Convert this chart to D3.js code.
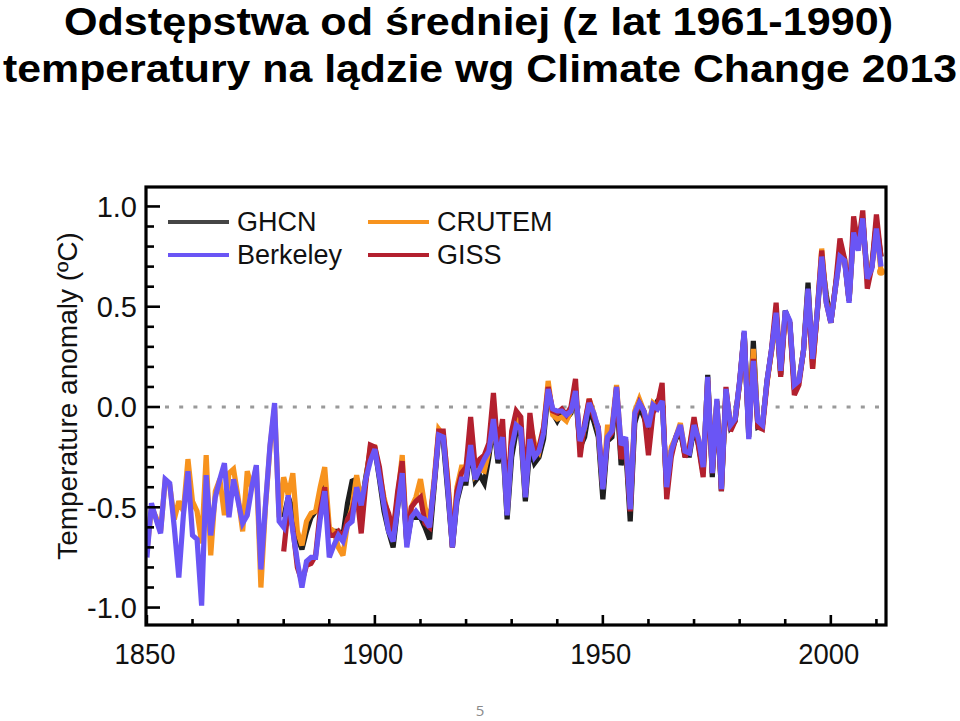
<!DOCTYPE html>
<html><head><meta charset="utf-8">
<script src="https://cdn.jsdelivr.net/npm/d3@7/dist/d3.min.js"></script>
<style>body{margin:0;background:#fff;}svg{display:block;}</style>
</head><body>
<svg id="chart" width="960" height="721"></svg>
<script>
// ---------------- data ----------------
const titleLines = ["Odstępstwa od średniej (z lat 1961-1990)", "temperatury na lądzie wg Climate Change 2013"];
const yAxisTitle = "Temperature anomaly (ºC)";
const pageNumber = "5";
const yMajorTicks = [-1.0, -0.5, 0.0, 0.5, 1.0];
const yTickLabels = ["-1.0", "-0.5", "0.0", "0.5", "1.0"];
const yMinorTicks = [-0.9,-0.8,-0.7,-0.6,-0.4,-0.3,-0.2,-0.1,0.1,0.2,0.3,0.4,0.6,0.7,0.8,0.9];
const xMajorTicks = [1850, 1900, 1950, 2000];
const xMinorTicks = [1860,1870,1880,1890,1910,1920,1930,1940,1960,1970,1980,1990,2010];
const xTickLabels = ["1850", "1900", "1950", "2000"];

const seriesNames = ["GHCN", "CRUTEM", "GISS", "Berkeley"];
const startBerkeley = 1850, startCrutem = 1850, startGhcn = 1880, startGiss = 1880;

const berkeley = [
-0.75,-0.48,-0.56,-0.63,-0.36,-0.38,-0.60,-0.85,-0.54,-0.32,
-0.64,-0.66,-0.99,-0.34,-0.64,-0.45,-0.36,-0.28,-0.55,-0.36,
-0.47,-0.58,-0.54,-0.40,-0.29,-0.81,-0.49,-0.19,0.02,-0.57,
-0.60,-0.44,-0.62,-0.77,-0.90,-0.77,-0.75,-0.75,-0.56,-0.42,
-0.75,-0.69,-0.64,-0.67,-0.59,-0.57,-0.40,-0.49,-0.36,-0.27,
-0.21,-0.35,-0.49,-0.62,-0.67,-0.50,-0.33,-0.70,-0.55,-0.52,
-0.55,-0.56,-0.60,-0.38,-0.14,-0.15,-0.41,-0.70,-0.46,-0.36,
-0.36,-0.19,-0.36,-0.31,-0.26,-0.22,-0.06,-0.26,-0.15,-0.54,
-0.20,-0.09,-0.11,-0.45,-0.16,-0.25,-0.22,-0.13,0.09,-0.01,
-0.02,-0.02,-0.04,-0.02,0.08,-0.17,-0.10,0.02,-0.03,-0.11,
-0.41,-0.15,-0.12,0.10,-0.19,-0.15,-0.51,-0.03,0.02,-0.02,
-0.10,0.01,-0.01,0.03,-0.40,-0.22,-0.15,-0.09,-0.22,-0.23,
-0.09,-0.16,-0.30,0.15,-0.33,0.04,-0.41,0.09,-0.09,-0.06,
0.13,0.38,-0.16,0.23,-0.07,-0.09,0.13,0.29,0.47,0.18,
0.48,0.43,0.11,0.13,0.28,0.59,0.24,0.47,0.75,0.52,
0.42,0.59,0.75,0.73,0.52,0.87,0.78,0.94,0.64,0.69,
0.89,0.70];

const crutem = [
-0.72,-0.50,-0.55,-0.62,-0.37,-0.39,-0.56,-0.47,-0.52,-0.26,
-0.47,-0.52,-0.68,-0.24,-0.74,-0.42,-0.36,-0.54,-0.33,-0.31,
-0.45,-0.62,-0.32,-0.40,-0.30,-0.90,-0.50,-0.20,0.00,-0.55,
-0.35,-0.44,-0.33,-0.62,-0.69,-0.57,-0.53,-0.52,-0.40,-0.30,
-0.60,-0.62,-0.70,-0.74,-0.58,-0.50,-0.34,-0.47,-0.37,-0.20,
-0.20,-0.33,-0.45,-0.55,-0.63,-0.45,-0.24,-0.66,-0.50,-0.45,
-0.36,-0.50,-0.58,-0.36,-0.11,-0.14,-0.36,-0.68,-0.40,-0.30,
-0.30,-0.14,-0.34,-0.31,-0.32,-0.22,-0.08,-0.24,-0.12,-0.52,
-0.16,-0.05,-0.10,-0.43,-0.08,-0.18,-0.22,-0.11,0.13,-0.04,
-0.06,-0.05,-0.07,-0.02,0.10,-0.20,-0.10,0.04,-0.03,-0.12,
-0.40,-0.10,-0.10,0.11,-0.20,-0.16,-0.50,-0.02,0.04,-0.02,
-0.10,0.02,0.00,0.06,-0.42,-0.20,-0.15,-0.08,-0.22,-0.20,
-0.07,-0.16,-0.30,0.14,-0.32,0.03,-0.40,0.08,-0.08,-0.06,
0.12,0.36,-0.12,0.29,-0.08,-0.09,0.12,0.28,0.46,0.18,
0.47,0.41,0.10,0.13,0.28,0.58,0.19,0.47,0.79,0.53,
0.43,0.59,0.76,0.74,0.53,0.88,0.79,0.94,0.64,0.70,
0.89,0.675];

const ghcn = [
-0.55,-0.45,-0.51,-0.65,-0.71,-0.62,-0.55,-0.52,-0.50,-0.38,
-0.63,-0.62,-0.62,-0.64,-0.48,-0.37,-0.36,-0.50,-0.35,-0.22,
-0.21,-0.36,-0.52,-0.62,-0.70,-0.50,-0.33,-0.68,-0.55,-0.55,
-0.55,-0.60,-0.66,-0.40,-0.14,-0.17,-0.43,-0.70,-0.47,-0.38,
-0.38,-0.20,-0.37,-0.34,-0.38,-0.25,-0.08,-0.28,-0.17,-0.56,
-0.25,-0.12,-0.14,-0.47,-0.20,-0.28,-0.25,-0.16,0.08,-0.03,
-0.07,-0.03,-0.06,-0.03,0.06,-0.20,-0.15,-0.01,-0.07,-0.15,
-0.46,-0.17,-0.15,0.08,-0.29,-0.20,-0.57,-0.08,0.00,-0.05,
-0.12,-0.01,0.03,0.05,-0.42,-0.22,-0.16,-0.12,-0.24,-0.24,
-0.10,-0.19,-0.33,0.16,-0.35,0.03,-0.42,0.07,-0.10,-0.07,
0.12,0.37,-0.15,0.33,-0.10,-0.09,0.13,0.28,0.47,0.16,
0.48,0.42,0.10,0.13,0.28,0.62,0.22,0.46,0.74,0.56,
0.42,0.60,0.76,0.74,0.53,0.88,0.80,0.94,0.65,0.70,
0.92,0.75];

const giss = [
-0.72,-0.50,-0.60,-0.80,-0.87,-0.79,-0.78,-0.74,-0.52,-0.40,
-0.64,-0.64,-0.62,-0.65,-0.56,-0.52,-0.42,-0.63,-0.38,-0.19,
-0.20,-0.30,-0.47,-0.53,-0.62,-0.42,-0.27,-0.68,-0.50,-0.47,
-0.45,-0.58,-0.60,-0.38,-0.12,-0.12,-0.38,-0.70,-0.42,-0.33,
-0.30,-0.05,-0.30,-0.26,-0.24,-0.18,0.07,-0.22,-0.06,-0.50,
-0.12,-0.02,-0.05,-0.42,-0.03,-0.22,-0.20,-0.10,0.10,-0.02,
-0.03,-0.01,-0.04,0.00,0.14,-0.25,-0.08,0.04,-0.05,-0.10,
-0.40,-0.16,-0.13,0.10,-0.26,-0.17,-0.52,-0.05,0.02,-0.02,
-0.24,-0.03,0.01,0.12,-0.46,-0.25,-0.15,-0.10,-0.25,-0.20,
-0.05,-0.20,-0.35,0.13,-0.33,0.02,-0.42,0.10,-0.12,-0.07,
0.13,0.37,-0.13,0.24,-0.10,-0.11,0.12,0.29,0.52,0.15,
0.46,0.42,0.06,0.11,0.28,0.58,0.19,0.47,0.78,0.52,
0.42,0.60,0.84,0.74,0.53,0.95,0.80,0.98,0.59,0.70,
0.96,0.75];

const colors = {GHCN:"#1e1e1e", CRUTEM:"#f7931e", GISS:"#b3202e", Berkeley:"#6a55f5"};
const legendColors = {GHCN:"#454545", CRUTEM:"#f7931e", GISS:"#b3202e", Berkeley:"#6a55f5"};

// ---------------- drawing ----------------
const svg = d3.select("#chart");
const FONT = "'Liberation Sans', Arial, Helvetica, sans-serif";
const frame = {left:146, right:886, top:187, bottom:625};

const x = d3.scaleLinear().domain([1849.8, 2012.1]).range([frame.left, frame.right]);
const y = d3.scaleLinear().domain([-1.087, 1.097]).range([frame.bottom, frame.top]);

// title
const tl = svg.append("g").attr("font-family", FONT).attr("font-weight", "bold").attr("font-size", 39).attr("fill", "#000");
tl.append("text").attr("x", 64).attr("y", 35).attr("textLength", 829).attr("lengthAdjust", "spacingAndGlyphs").text(titleLines[0]);
tl.append("text").attr("x", 3).attr("y", 82).attr("textLength", 954).attr("lengthAdjust", "spacingAndGlyphs").text(titleLines[1]);

// clip
svg.append("defs").append("clipPath").attr("id", "plotclip")
  .append("rect").attr("x", frame.left).attr("y", frame.top)
  .attr("width", frame.right - frame.left).attr("height", frame.bottom - frame.top);

// zero line
svg.append("line").attr("x1", 165).attr("x2", frame.right - 2)
  .attr("y1", y(0)).attr("y2", y(0))
  .attr("stroke", "#9a9a9a").attr("stroke-width", 3.2).attr("stroke-dasharray", "4,10.2");

// lines
function toPoints(arr, start) { return arr.map((v, i) => ({year: start + i, v})); }
const seriesData = {
  GHCN: toPoints(ghcn, startGhcn),
  CRUTEM: toPoints(crutem, startCrutem),
  GISS: toPoints(giss, startGiss),
  Berkeley: toPoints(berkeley, startBerkeley)
};
const line = d3.line().x(d => x(d.year)).y(d => y(d.v));
const plotG = svg.append("g").attr("clip-path", "url(#plotclip)");
seriesNames.forEach(name => {
  plotG.append("path").datum(seriesData[name])
    .attr("fill", "none").attr("stroke", colors[name]).attr("stroke-width", 5.2)
    .attr("stroke-linejoin", "miter").attr("stroke-miterlimit", 3)
    .attr("d", line);
});
// end marker for CRUTEM
const lastC = seriesData.CRUTEM[seriesData.CRUTEM.length - 1];
plotG.append("circle").attr("cx", x(lastC.year)).attr("cy", y(lastC.v)).attr("r", 4).attr("fill", colors.CRUTEM);

// ticks
const tickG = svg.append("g").attr("stroke", "#000").attr("stroke-width", 2.6);
yMajorTicks.forEach(t => tickG.append("line").attr("x1", frame.left).attr("x2", frame.left + 14).attr("y1", y(t)).attr("y2", y(t)));
yMinorTicks.forEach(t => tickG.append("line").attr("x1", frame.left).attr("x2", frame.left + 8).attr("y1", y(t)).attr("y2", y(t)));
xMajorTicks.forEach(t => tickG.append("line").attr("x1", x(t)).attr("x2", x(t)).attr("y1", frame.bottom).attr("y2", frame.bottom - 10));
xMinorTicks.forEach(t => tickG.append("line").attr("x1", x(t)).attr("x2", x(t)).attr("y1", frame.bottom).attr("y2", frame.bottom - 6));

// frame
svg.append("rect").attr("x", frame.left).attr("y", frame.top)
  .attr("width", frame.right - frame.left).attr("height", frame.bottom - frame.top)
  .attr("fill", "none").attr("stroke", "#000").attr("stroke-width", 3.2);

// tick labels
const lab = svg.append("g").attr("font-family", FONT).attr("fill", "#111");
yMajorTicks.forEach((t, i) => lab.append("text").attr("x", 137).attr("y", y(t)).attr("dy", "0.36em")
  .attr("font-size", 29).attr("text-anchor", "end").text(yTickLabels[i]));
xMajorTicks.forEach((t, i) => lab.append("text").attr("x", x(t) - 2).attr("y", 664)
  .attr("font-size", 29).attr("text-anchor", "middle")
  .attr("textLength", 61).attr("lengthAdjust", "spacingAndGlyphs").text(xTickLabels[i]));

// y axis title
svg.append("text").attr("transform", "translate(77,396) rotate(-90)")
  .attr("text-anchor", "middle").attr("font-family", FONT).attr("font-size", 28).attr("fill", "#111")
  .text(yAxisTitle);

// legend
const legendItems = [
  {name:"GHCN", x:168, y:222}, {name:"Berkeley", x:168, y:255},
  {name:"CRUTEM", x:368, y:222}, {name:"GISS", x:368, y:255}
];
const lg = svg.append("g");
legendItems.forEach(it => {
  lg.append("line").attr("x1", it.x).attr("x2", it.x + 61).attr("y1", it.y).attr("y2", it.y)
    .attr("stroke", legendColors[it.name]).attr("stroke-width", 4);
  lg.append("text").attr("x", it.x + 69).attr("y", it.y + 9)
    .attr("font-family", FONT).attr("font-size", 27).attr("fill", "#111").text(it.name);
});

// page number
svg.append("text").attr("x", 480).attr("y", 716).attr("text-anchor", "middle")
  .attr("font-family", "'Open Sans', 'Noto Sans', sans-serif").attr("font-size", 15).attr("fill", "#8a8a8a")
  .text(pageNumber);
</script>
</body></html>
